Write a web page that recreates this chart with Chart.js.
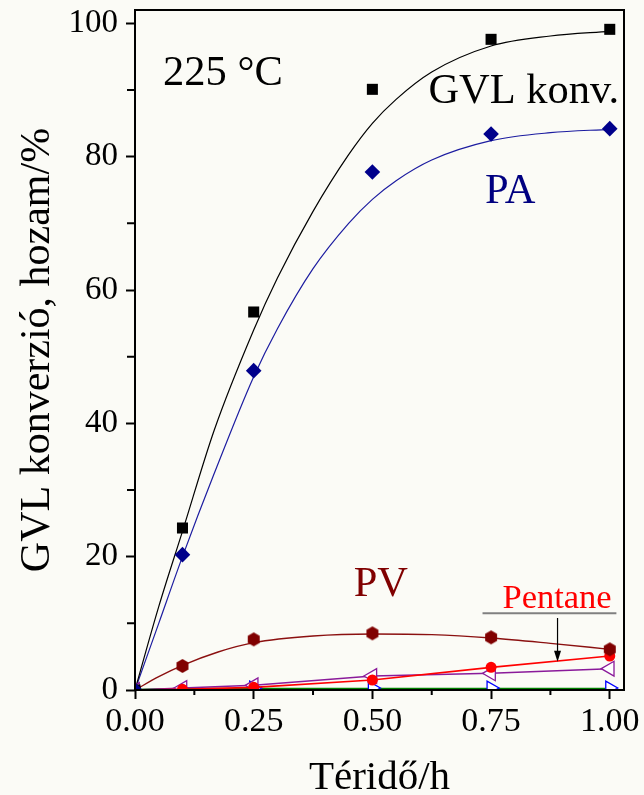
<!DOCTYPE html>
<html><head><meta charset="utf-8">
<script src="https://cdn.jsdelivr.net/npm/chart.js@4.4.1/dist/chart.umd.min.js"></script>
<style>html,body{margin:0;padding:0;background:#fbfbf6;}#wrap{width:644px;height:795px;}</style>
</head><body><div id="wrap"><canvas id="c" width="644" height="795"></canvas></div>
<script>
// ---- measured data ----
const time = [0, 0.1, 0.25, 0.5, 0.75, 1.0];
const gvlConversion = [0, 24.3, 56.7, 90.1, 97.6, 99.1];
const paYield = [0, 20.3, 47.9, 77.7, 83.4, 84.2];
const pvYield = [0, 3.6, 7.6, 8.5, 7.9, 6.1];
const pentaneYield = [0, 0.1, 0.4, 1.5, 3.4, 5.1];
const purpleYield = [0, 0.3, 0.7, 2.1, 2.5, 3.2];
const blueYield = [null, null, 0.3, 0.3, 0.3, 0.3];
const greenYield = [0, 0.15, 0.15, 0.15, 0.15, 0.15];

// fitted curves
const fitTime = [0, 0.05, 0.1, 0.167, 0.25, 0.3, 0.375, 0.45, 0.5, 0.55, 0.625, 0.75, 0.875, 1.0];
const gvlFit = [0, 12.5, 23.8, 39, 54, 61.8, 71.8, 80.3, 85.0, 88.6, 92.7, 96.6, 98.1, 98.8];
const paFit = [0, 10, 20, 32.5, 47.0, 54.2, 63.2, 70.0, 73.6, 76.4, 79.5, 82.4, 83.6, 84.1];
const pvFitTime = [0, 0.05, 0.1, 0.175, 0.25, 0.375, 0.5, 0.625, 0.75, 0.875, 1.0];
const pvFit = [0, 2.0, 3.7, 5.7, 7.1, 8.1, 8.4, 8.3, 7.8, 7.0, 6.1];

const xTicks = [0, 0.25, 0.5, 0.75, 1.0];
const xMinorTicks = [0.125, 0.375, 0.625, 0.875];
const yTicks = [0, 20, 40, 60, 80, 100];
const yMinorTicks = [10, 30, 50, 70, 90];

const xTitle = 'Téridő/h';
const yTitle = 'GVL konverzió, hozam/%';

// ---- styling ----
const FONT = '"Liberation Serif","Times New Roman",serif';
const BG = '#fbfbf6';
const pts = (xs, ys) => xs.map((x, i) => ({x, y: ys[i]}));

function hexagon(r, color) {
  const s = Math.ceil(2 * r + 2);
  const c = document.createElement('canvas');
  c.width = s; c.height = s;
  const g = c.getContext('2d');
  g.beginPath();
  for (let i = 0; i < 6; i++) {
    const a = Math.PI / 2 + i * Math.PI / 3;
    const px = s / 2 + r * Math.cos(a), py = s / 2 + r * Math.sin(a);
    if (i) g.lineTo(px, py); else g.moveTo(px, py);
  }
  g.closePath(); g.fillStyle = color; g.fill();
  return c;
}
const hex = hexagon(6.9, '#800000');

const annotations = [
  {text: '225 °C', x: 0.059, y: 90.75, color: '#000000', size: 42.5},
  {text: 'GVL konv.', x: 0.618, y: 88.05, color: '#000000', size: 42.5},
  {text: 'PA', x: 0.737, y: 73.1, color: '#000080', size: 42.5},
  {text: 'PV', x: 0.4606, y: 14.1, color: '#800000', size: 42.5},
  {text: 'Pentane', x: 0.774, y: 12.25, color: '#ff0000', size: 34.5}
];

const bgPlugin = {
  id: 'bg',
  beforeDraw(chart) {
    const ctx = chart.ctx;
    ctx.save(); ctx.fillStyle = BG; ctx.fillRect(0, 0, chart.width, chart.height); ctx.restore();
  }
};

const framePlugin = {
  id: 'frame',
  afterDraw(chart) {
    const {ctx, chartArea: a, scales: {x, y}} = chart;
    ctx.save();
    ctx.strokeStyle = '#000'; ctx.lineWidth = 2;
    ctx.strokeRect(a.left, a.top, a.right - a.left, a.bottom - a.top);
    ctx.beginPath();
    xMinorTicks.forEach(v => { const px = x.getPixelForValue(v); ctx.moveTo(px, a.bottom); ctx.lineTo(px, a.bottom + 5); });
    yMinorTicks.forEach(v => { const py = y.getPixelForValue(v); ctx.moveTo(a.left, py); ctx.lineTo(a.left - 8, py); });
    ctx.stroke();
    // annotations
    ctx.textAlign = 'left'; ctx.textBaseline = 'alphabetic';
    annotations.forEach(l => {
      ctx.font = l.size + 'px ' + FONT;
      ctx.fillStyle = l.color;
      ctx.fillText(l.text, x.getPixelForValue(l.x), y.getPixelForValue(l.y));
    });
    // underline of Pentane label
    ctx.strokeStyle = '#808080'; ctx.lineWidth = 2;
    ctx.beginPath();
    ctx.moveTo(x.getPixelForValue(0.732), y.getPixelForValue(11.5));
    ctx.lineTo(x.getPixelForValue(1.014), y.getPixelForValue(11.5));
    ctx.stroke();
    // arrow
    const ax = x.getPixelForValue(0.890), ay0 = y.getPixelForValue(10.8), ay1 = y.getPixelForValue(4.25);
    ctx.strokeStyle = '#000'; ctx.lineWidth = 1.2;
    ctx.beginPath(); ctx.moveTo(ax, ay0); ctx.lineTo(ax, ay1 - 8); ctx.stroke();
    ctx.fillStyle = '#000';
    ctx.beginPath(); ctx.moveTo(ax - 3.5, ay1 - 11); ctx.lineTo(ax + 3.5, ay1 - 11); ctx.lineTo(ax, ay1); ctx.closePath(); ctx.fill();
    ctx.restore();
  }
};

const markerDS = (label, ys, style) => Object.assign({
  label, data: pts(time, ys), showLine: false, borderWidth: 1.3
}, style);

new Chart(document.getElementById('c'), {
  type: 'scatter',
  data: {
    datasets: [
      markerDS('PA', paYield, {pointStyle: 'rectRot', pointRadius: 7.8, backgroundColor: '#00008b', borderColor: '#00008b', borderWidth: 0}),
      markerDS('GVL konv.', gvlConversion, {pointStyle: 'rect', pointRadius: 7.8, backgroundColor: '#000', borderColor: '#000', borderWidth: 0}),
      markerDS('PV', pvYield, {pointStyle: hex, pointRadius: 7}),
      {label: 'Pentane', data: pts(time, pentaneYield), showLine: true, tension: 0, borderColor: '#ff0000', borderWidth: 1.6,
       pointStyle: 'circle', pointRadius: 5.5, pointBackgroundColor: '#ff0000', pointBorderWidth: 0},
      {label: 'purple', data: pts(time, purpleYield), showLine: true, tension: 0, borderColor: '#8a1a9a', borderWidth: 1.5,
       pointStyle: 'triangle', pointRotation: -90, pointRadius: 8.5, pointBackgroundColor: '#ffffff', pointBorderColor: '#8a1a9a', pointBorderWidth: 1.3},
      {label: 'blue', data: pts(time, blueYield), showLine: false,
       pointStyle: 'triangle', pointRotation: 90, pointRadius: 8, pointBackgroundColor: '#ffffff', pointBorderColor: '#0000ff', pointBorderWidth: 1.3},
      {label: 'green', data: pts(time, greenYield), showLine: true, tension: 0, borderColor: '#008000', borderWidth: 2.5, pointRadius: 0},
      {label: 'GVL fit', data: pts(fitTime, gvlFit), showLine: true, cubicInterpolationMode: 'monotone', borderColor: '#000000', borderWidth: 1.2, pointRadius: 0},
      {label: 'PA fit', data: pts(fitTime, paFit), showLine: true, cubicInterpolationMode: 'monotone', borderColor: '#1c1ca0', borderWidth: 1.2, pointRadius: 0},
      {label: 'PV fit', data: pts(pvFitTime, pvFit), showLine: true, cubicInterpolationMode: 'monotone', borderColor: '#8b1010', borderWidth: 1.4, pointRadius: 0}
    ]
  },
  options: {
    responsive: false,
    devicePixelRatio: 1,
    animation: false,
    layout: {padding: {top: 10, right: 20, left: 0, bottom: 0}},
    plugins: {legend: {display: false}, tooltip: {enabled: false}},
    scales: {
      x: {
        type: 'linear', min: 0, max: 1.03,
        afterBuildTicks: s => { s.ticks = xTicks.map(v => ({value: v})); },
        afterFit: s => { s.height = 105; s.paddingLeft = 0; s.paddingRight = 0; },
        ticks: {callback: v => Number(v).toFixed(2), color: '#000', padding: 6, maxRotation: 0,
                font: {family: FONT, size: 34, lineHeight: 1}},
        grid: {display: true, drawOnChartArea: false, drawTicks: true, tickLength: 9, tickWidth: 2, tickColor: '#000'},
        border: {display: false},
        title: {display: true, text: xTitle, color: '#000', padding: 0, font: {family: FONT, size: 41, lineHeight: 0.8}}
      },
      y: {
        type: 'linear', min: 0, max: 102,
        afterBuildTicks: s => { s.ticks = yTicks.map(v => ({value: v})); },
        afterFit: s => { s.width = 135; s.paddingTop = 0; s.paddingBottom = 0; },
        ticks: {callback: v => String(v), color: '#000', padding: 8,
                font: {family: FONT, size: 33, lineHeight: 1}},
        grid: {display: true, drawOnChartArea: false, drawTicks: true, tickLength: 9, tickWidth: 2, tickColor: '#000'},
        border: {display: false},
        title: {display: true, text: yTitle, color: '#000', padding: {top: 17, bottom: 0}, font: {family: FONT, size: 42, lineHeight: 1}}
      }
    }
  },
  plugins: [bgPlugin, framePlugin]
});
</script>
</body></html>
